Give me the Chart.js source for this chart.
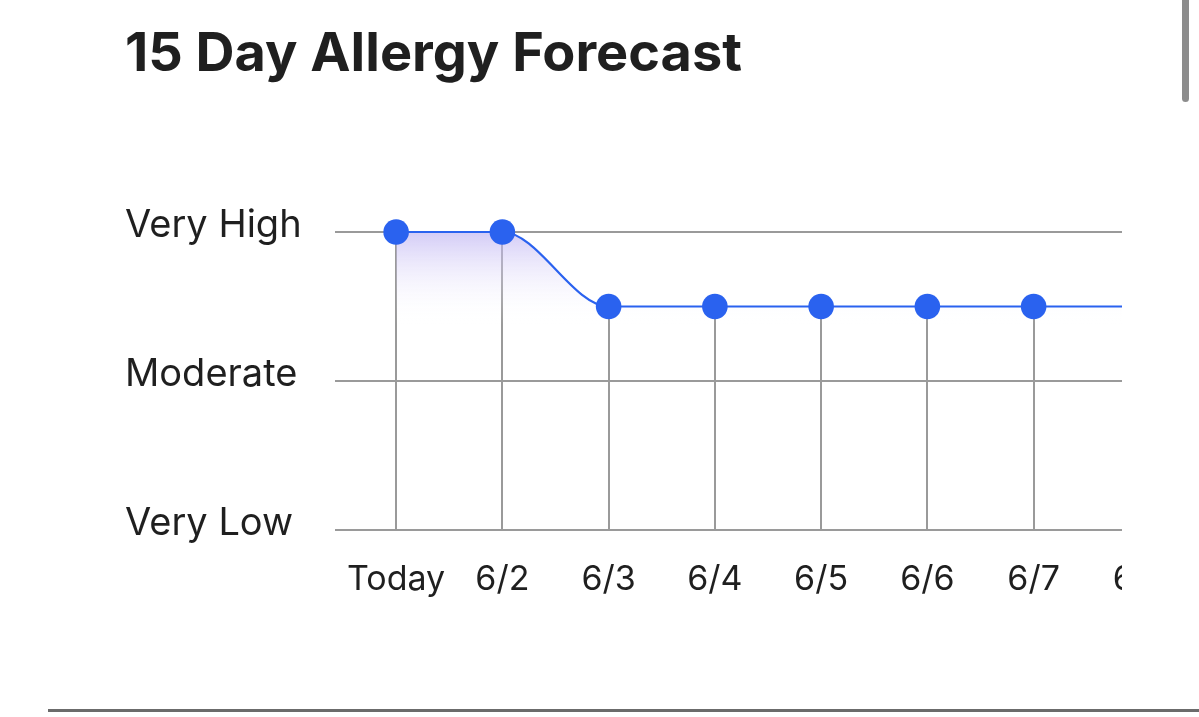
<!DOCTYPE html>
<html>
<head>
<meta charset="utf-8">
<script src="https://cdn.jsdelivr.net/npm/chart.js@4/dist/chart.umd.min.js"></script>
<style>
  html, body { margin: 0; padding: 0; background: #fff; width: 1199px; height: 717px; overflow: hidden; }
  #wrap { position: absolute; left: 0; top: 0; width: 1122px; height: 640px; overflow: hidden; }
  #scrollbar { position: absolute; left: 1182px; top: -6px; width: 7px; height: 108px; border-radius: 4px; background: #8c8c8c; }
  #rule { position: absolute; left: 48px; top: 709px; width: 1151px; height: 3px; background: #6b6b6b; }
</style>
</head>
<body>
<div id="wrap"><canvas id="forecast" width="1200" height="630"></canvas></div>
<div id="scrollbar"></div>
<div id="rule"></div>
<script>
// forecast data
const days = ['Today', '6/2', '6/3', '6/4', '6/5', '6/6', '6/7', '6/8'];
const levels = [2, 2, 1.5, 1.5, 1.5, 1.5, 1.5, 1.5];
const levelNames = ['Very Low', 'Moderate', 'Very High'];

const lineBlue = '#2a62ef';
const gridGrey = '#9a9a9a';
const textDark = '#1f1f1f';

// vertical drop line from each point down to the axis
const dropLines = {
  id: 'dropLines',
  beforeDatasetsDraw(chart) {
    const { ctx, chartArea } = chart;
    const meta = chart.getDatasetMeta(0);
    ctx.save();
    ctx.strokeStyle = gridGrey;
    ctx.lineWidth = 2;
    meta.data.forEach(pt => {
      const x = Math.round(pt.x);
      ctx.beginPath();
      ctx.moveTo(x, pt.y);
      ctx.lineTo(x, chartArea.bottom);
      ctx.stroke();
    });
    ctx.restore();
  }
};

function fillGradient(context) {
  const chart = context.chart;
  const y = chart.scales.y;
  if (!chart.chartArea || !y) return 'rgba(0,0,0,0)';
  const g = chart.ctx.createLinearGradient(0, y.getPixelForValue(2), 0, y.getPixelForValue(1.38));
  g.addColorStop(0, 'rgba(188,176,242,0.65)');
  g.addColorStop(1, 'rgba(255,255,255,0)');
  return g;
}

new Chart(document.getElementById('forecast').getContext('2d'), {
  type: 'line',
  data: {
    labels: days,
    datasets: [{
      data: levels,
      borderColor: lineBlue,
      borderWidth: 2.2,
      backgroundColor: fillGradient,
      fill: 'origin',
      cubicInterpolationMode: 'monotone',
      pointRadius: 12.8,
      pointBackgroundColor: lineBlue,
      pointBorderWidth: 0,
      clip: false
    }]
  },
  plugins: [dropLines],
  options: {
    responsive: false,
    animation: false,
    events: [],
    layout: { autoPadding: false, padding: { left: 125, right: 7, top: 0, bottom: 0 } },
    plugins: {
      legend: { display: false },
      tooltip: { enabled: false },
      title: {
        display: true,
        text: '15 Day Allergy Forecast',
        align: 'start',
        color: textDark,
        font: { family: 'Inter', size: 54, weight: 'bold', lineHeight: 1.2 },
        padding: { top: 22, bottom: 145.2 }
      }
    },
    scales: {
      x: {
        type: 'category',
        offset: true,
        grid: { display: false, drawTicks: false },
        border: { display: false },
        ticks: {
          color: textDark,
          padding: 29,
          maxRotation: 0,
          autoSkip: false,
          font: { family: 'Inter', size: 34 }
        },
        afterFit(scale) { scale.height = 100; }
      },
      y: {
        min: 0,
        max: 2,
        grid: { color: gridGrey, lineWidth: 2, tickLength: 8, drawTicks: true, tickColor: gridGrey },
        border: { display: false },
        ticks: {
          stepSize: 1,
          color: textDark,
          crossAlign: 'far',
          labelOffset: -6,
          font: { family: 'Inter', size: 38 },
          callback: v => levelNames[v]
        },
        afterFit(scale) { scale.width = 218; }
      }
    }
  }
});
</script>
</body>
</html>
